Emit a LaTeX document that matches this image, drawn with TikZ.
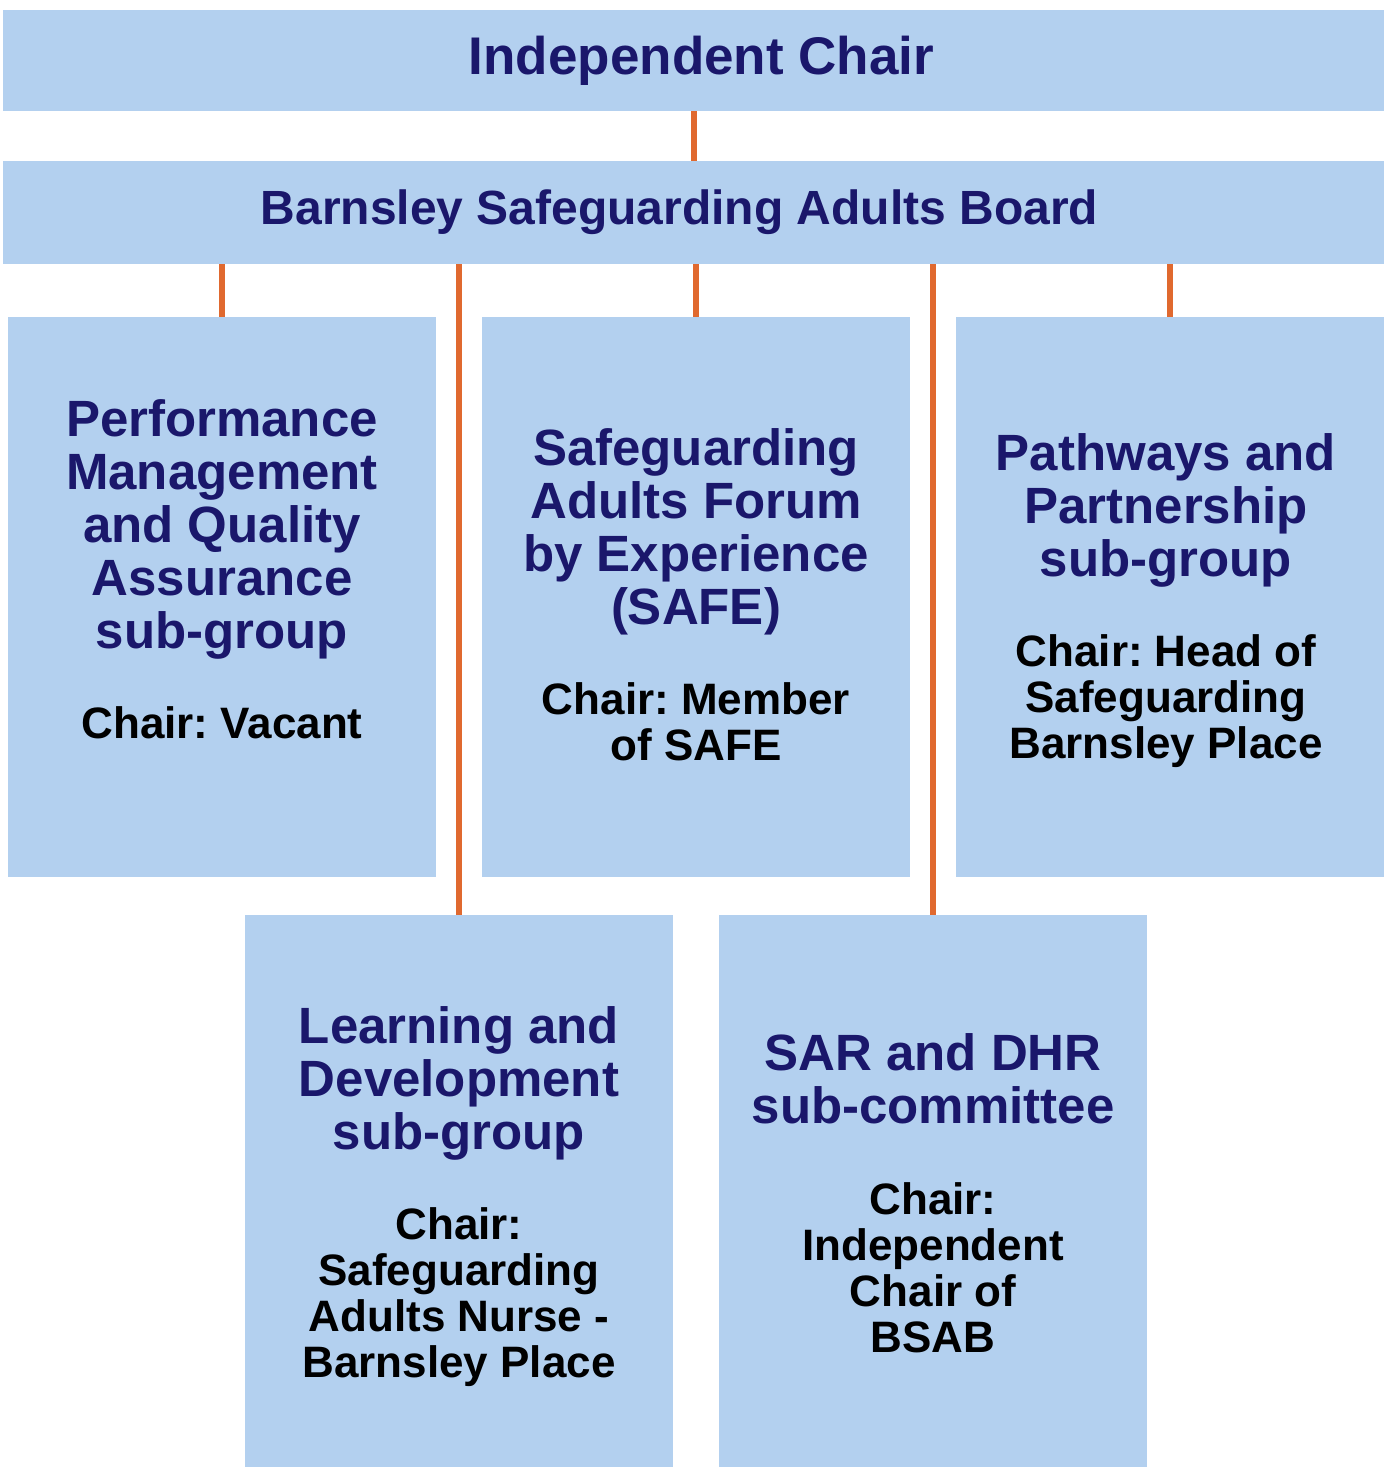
\documentclass[tikz,border=0pt]{standalone}
\usepackage{fontspec}
\setmainfont{Liberation Sans}
\usetikzlibrary{positioning}
\frenchspacing

\definecolor{boxblue}{HTML}{B3D0EF}
\definecolor{boardnavy}{HTML}{1A176B}
\definecolor{linkorange}{HTML}{E0692F}

\begin{document}
\begin{tikzpicture}[
    x=0.5pt, y=-0.5pt,
    band/.style={fill=boxblue, inner sep=0pt, minimum width=690.5pt, text=boardnavy},
    box/.style={fill=boxblue, inner sep=0pt, minimum width=214pt, minimum height=280pt},
    grouptitle/.style={anchor=north, inner sep=0pt, align=center, text=boardnavy,
        font=\fontsize{25.5}{26.5}\selectfont\bfseries},
    groupchair/.style={anchor=north, inner sep=0pt, align=center,
        font=\fontsize{22}{23}\selectfont\bfseries},
    link/.style={draw=linkorange, line width=3pt}
]
\useasboundingbox (0,0) rectangle (1391,1467);

% board and chair
\node[band, minimum height=50.5pt, font=\fontsize{26.5}{30}\selectfont\bfseries] (ic) at (693.5,60.5) {\hspace*{8pt}Independent Chair};
\node[band, minimum height=51.5pt, font=\fontsize{24}{28}\selectfont\bfseries] (bsab) at (693.5,212.5) {Barnsley Safeguarding Adults Board\hspace*{14pt}};

% sub-groups
\node[box] (pm) at (222,597) {};
\node[box] (safe) at (696,597) {};
\node[box] (pp) at (1170,597) {};
\node[box, minimum height=276pt] (ld) at (459,1191) {};
\node[box, minimum height=276pt] (sar) at (933,1191) {};

\draw[link] (ic.south) -- (bsab.north);
\foreach \grp in {pm,safe,pp,ld,sar}
    \draw[link] (\grp.north) -- (\grp.north |- bsab.south);

\node[grouptitle] (pm-title) at (222,399) {Performance\\Management\\and Quality\\Assurance\\sub-group};
\node[groupchair] (pm-chair) at (222,706.5) {Chair: Vacant};

\node[grouptitle] (safe-title) at (696,428) {Safeguarding\\Adults Forum\\by Experience\\(SAFE)};
\node[groupchair] (safe-chair) at (696,682.5) {Chair: Member\\of SAFE};

\node[grouptitle] (pp-title) at (1166,433) {Pathways and\\Partnership\\sub-group};
\node[groupchair] (pp-chair) at (1166,634.5) {Chair: Head of\\Safeguarding\\Barnsley Place};

\node[grouptitle] (ld-title) at (459,1006) {Learning and\\Development\\sub-group};
\node[groupchair] (ld-chair) at (459,1207.5) {Chair:\\Safeguarding\\Adults Nurse -\\Barnsley Place};

\node[grouptitle] (sar-title) at (933,1033) {SAR and DHR\\sub-committee};
\node[groupchair] (sar-chair) at (933,1182.5) {Chair:\\Independent\\Chair of\\BSAB};
\end{tikzpicture}
\end{document}
